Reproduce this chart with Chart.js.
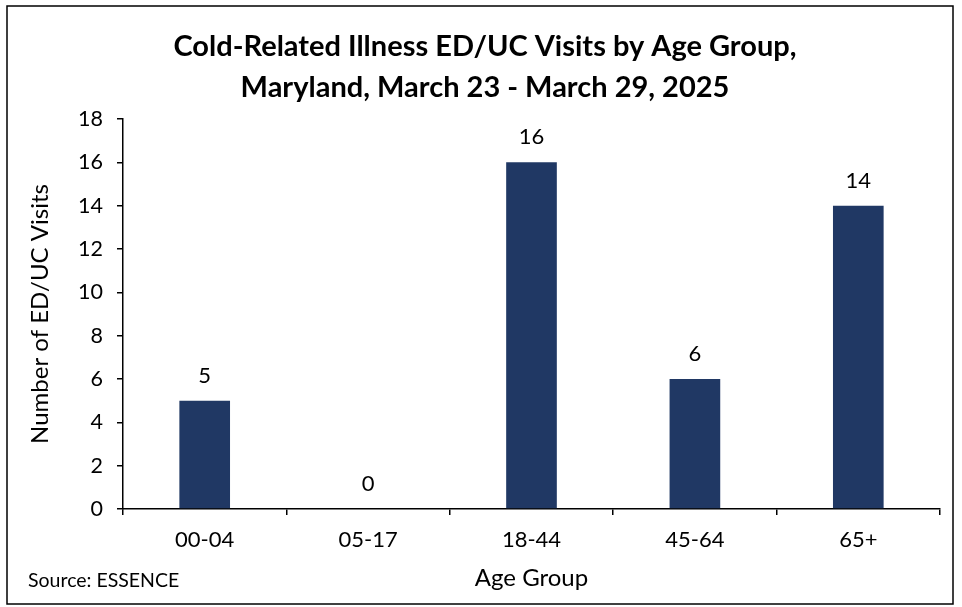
<!DOCTYPE html>
<html>
<head>
<meta charset="utf-8">
<script src="https://cdn.jsdelivr.net/npm/chart.js@4.4.1/dist/chart.umd.min.js"></script>
<style>
  html, body { margin: 0; padding: 0; background: #fff; }
</style>
</head>
<body>
<canvas id="ageChart" width="962" height="607"></canvas>
<script>
// data
const ageGroups = ['00-04', '05-17', '18-44', '45-64', '65+'];
const visits = [5, 0, 16, 6, 14];
const yMin = 0, yMax = 18, yStep = 2;

const titleLines = ['Cold-Related Illness ED/UC Visits by Age Group,', 'Maryland, March 23 - March 29, 2025'];
const sourceNote = 'Source: ESSENCE';

const FONT = 'Lato, Calibri, Carlito, sans-serif';
const BAR = '#203864';

// value above each bar
const barLabels = {
    id: 'barLabels',
    afterDatasetsDraw(chart) {
        const ctx = chart.ctx;
        const meta = chart.getDatasetMeta(0);
        ctx.save();
        ctx.font = '22px ' + FONT;
        ctx.fillStyle = '#000';
        ctx.textAlign = 'center';
        ctx.textBaseline = 'middle';
        meta.data.forEach((bar, i) => {
            ctx.fillText(String(visits[i]), bar.x, bar.y - 25);
        });
        ctx.restore();
    }
};

// outer frame and source note
const frame = {
    id: 'frame',
    afterDraw(chart) {
        const ctx = chart.ctx;
        ctx.save();
        ctx.strokeStyle = '#000';
        ctx.lineWidth = 1.5;
        ctx.strokeRect(7, 6, 946, 598);
        ctx.font = '19.5px ' + FONT;
        ctx.fillStyle = '#000';
        ctx.textAlign = 'left';
        ctx.textBaseline = 'middle';
        ctx.fillText(sourceNote, 28, 581);
        ctx.restore();
    }
};

new Chart(document.getElementById('ageChart').getContext('2d'), {
    type: 'bar',
    data: {
        labels: ageGroups,
        datasets: [{
            data: visits,
            backgroundColor: BAR,
            borderWidth: 0,
            categoryPercentage: 1,
            barPercentage: 0.31
        }]
    },
    options: {
        responsive: false,
        animation: false,
        devicePixelRatio: 1,
        layout: { padding: { left: 30, right: 22, top: 0, bottom: 0 } },
        plugins: {
            legend: { display: false },
            tooltip: { enabled: false },
            title: {
                display: true,
                text: titleLines,
                color: '#000',
                font: { family: FONT, size: 29, weight: 'bold', lineHeight: 41 / 29 },
                padding: { top: 26.5, bottom: 10.5 }
            }
        },
        scales: {
            x: {
                afterFit(scale) { scale.height = 98; },
                grid: { display: true, drawOnChartArea: false, offset: true, color: '#000', lineWidth: 1.5, tickLength: 6 },
                border: { display: true, color: '#000', width: 1.5 },
                ticks: { color: '#000', font: { family: FONT, size: 22 }, padding: 12 },
                title: {
                    display: true,
                    text: 'Age Group',
                    color: '#000',
                    font: { family: FONT, size: 24 },
                    padding: { top: 0, bottom: 14.6 }
                }
            },
            y: {
                min: yMin,
                max: yMax,
                afterFit(scale) { scale.width = 93; },
                grid: { display: true, drawOnChartArea: false, color: '#000', lineWidth: 1.5, tickLength: 6 },
                border: { display: true, color: '#000', width: 1.5 },
                ticks: { stepSize: yStep, color: '#000', font: { family: FONT, size: 21.5 }, padding: 14 },
                title: {
                    display: true,
                    text: 'Number of ED/UC Visits',
                    color: '#000',
                    font: { family: FONT, size: 24 },
                    padding: { top: -4.4, bottom: 0 }
                }
            }
        }
    },
    plugins: [barLabels, frame]
});
</script>
</body>
</html>
